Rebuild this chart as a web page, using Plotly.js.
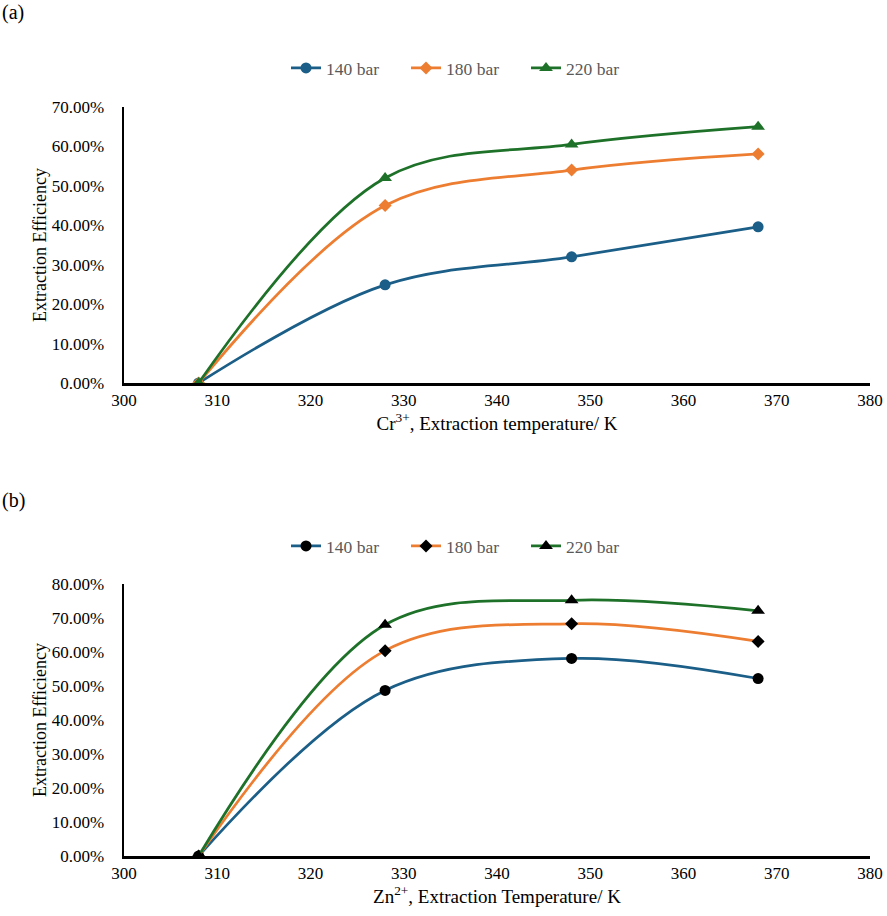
<!DOCTYPE html>
<html>
<head>
<meta charset="utf-8">
<script src="https://cdn.plot.ly/plotly-3.0.1.min.js"></script>
<style>html,body{margin:0;padding:0;background:#fff;}#chart{width:887px;height:916px;}</style>
</head>
<body>
<div id="chart"></div>
<script>
// Temperatures (K)
const temps = [308, 328, 348, 368];
const seriesNames = ['140 bar', '180 bar', '220 bar'];
// (a) Cr3+ extraction efficiency (fraction)
const cr140 = [0.000, 0.249, 0.320, 0.396];
const cr180 = [0.000, 0.450, 0.540, 0.581];
const cr220 = [0.000, 0.520, 0.605, 0.650];
// (b) Zn2+ extraction efficiency (fraction)
const zn140 = [0.000, 0.487, 0.581, 0.522];
const zn180 = [0.000, 0.604, 0.683, 0.631];
const zn220 = [0.000, 0.680, 0.752, 0.721];

const lineColors = ['#1B5E87', '#ED7D31', '#1E7128'];
const symbols = ['circle', 'diamond', 'triangle-up'];
const sizes = [11, 10, 12];
const serif = 'Liberation Serif';

function mk(y, i, xa, ya, leg, markerColor) {
  return {
    x: temps, y: y, name: seriesNames[i], type: 'scatter', mode: 'lines+markers',
    xaxis: xa, yaxis: ya, legend: leg,
    line: {color: lineColors[i], width: 2.75, shape: 'spline', smoothing: 1},
    marker: {symbol: symbols[i], size: sizes[i], color: markerColor || lineColors[i]}
  };
}

const data = [
  mk(cr140, 0, 'x', 'y', 'legend'),
  mk(cr180, 1, 'x', 'y', 'legend'),
  mk(cr220, 2, 'x', 'y', 'legend'),
  mk(zn140, 0, 'x2', 'y2', 'legend2', '#000'),
  mk(zn180, 1, 'x2', 'y2', 'legend2', '#000'),
  mk(zn220, 2, 'x2', 'y2', 'legend2', '#000')
];

const xdom = [124/887, 870/887];
function xaxis(title, anchor) {
  return {
    domain: xdom, anchor: anchor, range: [300, 380], dtick: 10, tick0: 300,
    showgrid: false, zeroline: false, showline: true, linecolor: '#000', linewidth: 2.5,
    ticks: '', tickfont: {family: serif, size: 17, color: '#000'},
    title: {text: title, font: {family: serif, size: 19, color: '#000'}, standoff: 4},
    automargin: false
  };
}
function yaxis(domain, max, anchor) {
  return {
    domain: domain, anchor: anchor, range: [0, max], dtick: 0.1, tickformat: '.2%',
    showgrid: false, zeroline: false, showline: true, linecolor: '#000', linewidth: 2.5,
    ticks: '', ticklabelstandoff: 14, tickfont: {family: serif, size: 17, color: '#000'},
    title: {text: 'Extraction Efficiency', font: {family: serif, size: 18, color: '#000'}},
    automargin: false
  };
}
const legendBase = {
  orientation: 'h', xanchor: 'center', yanchor: 'middle', x: 466/887,
  entrywidth: 75, entrywidthmode: 'pixels',
  font: {family: serif, size: 17.5, color: '#595959'}, bgcolor: 'rgba(0,0,0,0)'
};

const layout = {
  width: 887, height: 916, margin: {l: 0, r: 0, t: 0, b: 0},
  paper_bgcolor: '#fff', plot_bgcolor: '#fff', showlegend: true,
  font: {family: serif},
  xaxis: xaxis('Cr<sup>3+</sup>, Extraction temperature/ K', 'y'),
  yaxis: yaxis([1 - 383/916, 1 - 107/916], 0.70, 'x'),
  xaxis2: xaxis('Zn<sup>2+</sup>, Extraction Temperature/ K', 'y2'),
  yaxis2: yaxis([1 - 856/916, 1 - 584/916], 0.80, 'x2'),
  legend: Object.assign({}, legendBase, {y: 1 - 68/916}),
  legend2: Object.assign({}, legendBase, {y: 1 - 546/916}),
  annotations: [
    {text: '(a)', xref: 'paper', yref: 'paper', x: 0, y: 1 - 12/916, xanchor: 'left', yanchor: 'middle', showarrow: false, font: {family: serif, size: 20, color: '#000'}},
    {text: '(b)', xref: 'paper', yref: 'paper', x: 0, y: 1 - 500/916, xanchor: 'left', yanchor: 'middle', showarrow: false, font: {family: serif, size: 20, color: '#000'}}
  ]
};

Plotly.newPlot('chart', data, layout, {displayModeBar: false, staticPlot: true});
</script>
</body>
</html>
